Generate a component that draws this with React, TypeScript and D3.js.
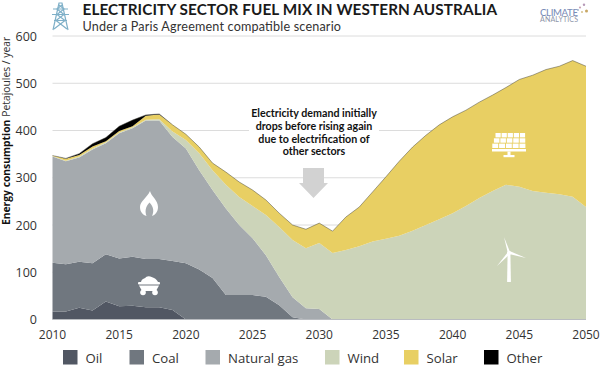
import React from "react";
import * as d3 from "d3";

const years = d3.range(2010, 2051);
const oil = [17,17,25,19,38,28,29,26,26,20,0,0,0,0,0,0,0,0,0,0,0,0,0,0,0,0,0,0,0,0,0,0,0,0,0,0,0,0,0,0,0];
const coal = [103,100,97,100,100,101,104,102,102,104,119,106,88,52,52,52,48,30,5,0,0,0,0,0,0,0,0,0,0,0,0,0,0,0,0,0,0,0,0,0,0];
const gas = [225,218,221,241,235,265,272,293,293,262,243,210,186,183,148,120,88,60,42,24,22,0,0,0,0,0,0,0,0,0,0,0,0,0,0,0,0,0,0,0,0];
const wind = [1,1,2,2,2,2,2,2,3,12,18,36,42,50,59,68,85,106,121,127,140,141,147,155,165,171,177,188,200,212,225,240,257,272,285,281,272,268,265,260,238];
const solar = [1,4,3,4,2,3,2,8,10,14,12,13,15,27,32,34,32,29,32,40,42,46,70,83,105,131,158,177,190,200,204,203,203,203,206,227,245,261,271,288,298];
const other = [0,1,3,6,8,10,13,2,1,0,0,0,0,0,0,0,0,0,0,0,0,0,0,0,0,0,0,0,0,0,0,0,0,0,0,0,0,0,0,0,0];

const seriesNames = ["Oil", "Coal", "Natural gas", "Wind", "Solar", "Other"];
const seriesValues = [oil, coal, gas, wind, solar, other];
const seriesColors = ["#515763", "#70777f", "#a5aaae", "#ccd4b9", "#e8cf63", "#000000"];
const yTicks = [0, 100, 200, 300, 400, 500, 600];
const xTicks = [2010, 2015, 2020, 2025, 2030, 2035, 2040, 2045, 2050];
const legendX = [63, 129.5, 205.5, 325, 404, 484];
const noteLines = ["Electricity demand initially", "drops before rising again", "due to electrification of", "other sectors"];

const x = d3.scaleLinear().domain([2010, 2050]).range([52.5, 586]);
const y = d3.scaleLinear().domain([0, 600]).range([319.5, 36]);

const rows = years.map((yr, i) => {
  const row: Record<string, number> = { year: yr };
  seriesNames.forEach((n, s) => (row[n] = seriesValues[s][i]));
  return row;
});
const stacked = d3.stack<Record<string, number>>().keys(seriesNames)(rows);
const area = d3
  .area<any>()
  .x((d) => x(d.data.year))
  .y0((d) => y(d[0]))
  .y1((d) => y(d[1]));
const topLine = d3
  .line<any>()
  .x((d) => x(d.data.year))
  .y((d) => y(d[1]));

const sans = "'Open Sans', sans-serif";
const lato = "Lato, sans-serif";

function Pylon() {
  return (
    <g transform="translate(52,3)" stroke="#7fb0c8" strokeWidth={1.2} fill="none">
      <path d="M1 27 L7 0 L10 0 L16 27 M1 6 H16 M0 11.5 H17 M2 17.5 H15" />
      <path d="M7 2 L12 6 L5 11.5 L13 17.5 L2 26 M10 2 L5 6 L12 11.5 L4 17.5 L15 26" />
    </g>
  );
}

function Flame() {
  return (
    <path
      transform="translate(149,204)"
      fill="#fff"
      fillRule="evenodd"
      d="M1 -13 C2 -8 9 -4 9 3 C9 8 6 11 3 12 C5 8 5 3 0.5 -1.5 C-4 3 -4 8 -2.5 12 C-6 11 -9 8 -9 3 C-9 -3 -2 -6 1 -13 Z"
    />
  );
}

function Cart() {
  return (
    <g transform="translate(149,286)" fill="#fff">
      <path d="M-8 -4 C-7 -8 -4 -7 -3 -9 C0 -11 3 -9 5 -8 C7 -7 8 -6 9 -4 Z" />
      <rect x={-11} y={-4} width={22} height={2.6} rx={1} />
      <path d="M-10 -0.6 H10 L7 5 H-7 Z" />
      <circle cx={-6} cy={6.5} r={2.8} />
      <circle cx={6} cy={6.5} r={2.8} />
    </g>
  );
}

function Panel() {
  const cols = d3.range(5);
  const rowsN = d3.range(3);
  return (
    <g transform="translate(509,143)" fill="#fff">
      {rowsN.map((r) =>
        cols.map((c) => {
          const top = -10 + r * 5.3;
          const slant = 1 + r * 0.6;
          const w = 5.2 + r * 0.35;
          const startX = -13.5 - r * 1 + c * (w + 0.9);
          return <rect key={r + "-" + c} x={startX - slant + 1} y={top} width={w} height={4.4} />;
        })
      )}
      <rect x={-17} y={6} width={34} height={2.5} />
      <rect x={-1.5} y={8.5} width={3} height={4} />
      <rect x={-5.5} y={12} width={11} height={2.2} />
    </g>
  );
}

function Turbine() {
  return (
    <g transform="translate(509,254)" fill="#fff">
      <path d="M-1.4 0 L1.4 0 L1.9 28 L-1.9 28 Z" />
      <path d="M-1.2 -1 L-5 -17 L1 -2 Z" />
      <path d="M0.5 -3 L17 4 L0 0 Z" />
      <path d="M-1 -2 L1 0 L-12 12 Z" />
      <circle cx={0} cy={-1} r={2} />
    </g>
  );
}

function Logo() {
  return (
    <g>
      <text x={540} y={16} fontFamily={lato} fontSize={9.6} fontWeight={500} fill="#7b8db8" textLength={38} lengthAdjust="spacing">
        CLIMATE
      </text>
      <text x={540} y={22} fontFamily={lato} fontSize={7} fill="#8d94a8" textLength={38} lengthAdjust="spacing">
        ANALYTICS
      </text>
      <circle cx={580} cy={7.5} r={1.1} fill="#c9a3b5" />
      <circle cx={584} cy={4.8} r={1.2} fill="#b79ab8" />
      <circle cx={578} cy={10} r={0.9} fill="#9fb0c9" />
      <circle cx={586.5} cy={11} r={1.5} fill="#c8a765" />
      <circle cx={582} cy={12} r={1} fill="#d4c08a" />
    </g>
  );
}

export default function App() {
  return (
    <svg
      width={600}
      height={370}
      viewBox="0 0 600 370"
      style={{ position: "absolute", left: 0, top: 0, background: "#fff" }}
    >
      {yTicks.slice(1).map((t) => (
        <line key={t} x1={52.5} x2={586} y1={y(t)} y2={y(t)} stroke="#dcdcdc" strokeWidth={1} />
      ))}
      <rect x={249} y={108} width={130} height={64} fill="#fff" />

      {stacked.map((s, i) => (
        <path key={s.key} d={area(s as any) ?? ""} fill={seriesColors[i]} />
      ))}
      <path d={topLine(stacked[5] as any) ?? ""} fill="none" stroke="#44443c" strokeOpacity={0.6} strokeWidth={0.8} />
      <line x1={52.5} x2={586} y1={y(0)} y2={y(0)} stroke="#b9bcc0" strokeWidth={1} />

      {yTicks.map((t) => (
        <text key={t} x={37} y={y(t) + 4.5} textAnchor="end" fontFamily={sans} fontSize={12.5} fill="#333">
          {t}
        </text>
      ))}
      {xTicks.map((t) => (
        <text key={t} x={x(t)} y={339} textAnchor="middle" fontFamily={sans} fontSize={12} fill="#333">
          {t}
        </text>
      ))}

      <text transform="translate(9.5,225) rotate(-90)" fontFamily={sans} fontSize={10.3} fill="#333">
        <tspan fontWeight={700} fill="#111">Energy consumption</tspan>
        <tspan dx={3}>Petajoules / year</tspan>
      </text>

      <Pylon />
      <text x={82.5} y={15} fontFamily={lato} fontSize={15.3} fontWeight={700} fill="#1a1a1a" textLength={414.5} lengthAdjust="spacing">
        ELECTRICITY SECTOR FUEL MIX IN WESTERN AUSTRALIA
      </text>
      <text x={82.5} y={31} fontFamily={lato} fontSize={12.6} fill="#333" textLength={258.5} lengthAdjust="spacing">
        Under a Paris Agreement compatible scenario
      </text>
      <Logo />

      {noteLines.map((l, i) => (
        <text
          key={l}
          x={314}
          y={117 + i * 12.8}
          textAnchor="middle"
          fontFamily={lato}
          fontSize={10.7}
          fontWeight={700}
          fill="#111"
        >
          {l}
        </text>
      ))}
      <path d="M303 168 H324 V183 H328 L313.5 198 L299 183 H303 Z" fill="#d2d2d2" />

      <Flame />
      <Cart />
      <Panel />
      <Turbine />

      {seriesNames.map((n, i) => (
        <g key={n}>
          <rect x={legendX[i]} y={350} width={14.5} height={14.5} fill={seriesColors[i]} />
          <text x={legendX[i] + 22.5} y={363} fontFamily={sans} fontSize={13.2} fill="#333">
            {n}
          </text>
        </g>
      ))}
    </svg>
  );
}
